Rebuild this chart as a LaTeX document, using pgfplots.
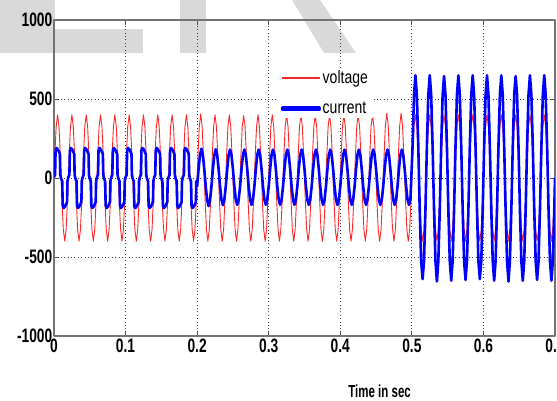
\documentclass[border=0pt]{standalone}
\usepackage{fontspec}
\setmainfont{Liberation Sans}
\newfontfamily\tickfont{Liberation Sans}[FakeStretch=0.71]
\newfontfamily\labfont{Liberation Sans}[FakeStretch=0.66]
\newfontfamily\legfont{Liberation Sans}[FakeStretch=0.78]
\usepackage{pgfplots}
\pgfplotsset{compat=1.18}
\definecolor{vred}{RGB}{255,40,40}

\begin{document}
\begin{tikzpicture}
\path[use as bounding box] (-54bp,-65bp) rectangle (503bp,336bp);
% faded watermark pieces
\fill[black!15] (-54bp,283bp) rectangle (1bp,336bp);
\fill[black!15] (1bp,283bp) rectangle (89bp,307bp);
\fill[black!15] (126bp,283bp) rectangle (152bp,336bp);
\fill[black!15] (238bp,336bp) -- (266bp,336bp) -- (302bp,283bp) -- (270bp,283bp) -- cycle;
\begin{axis}[
    at={(0,0)}, anchor=south west,
    width=501bp, height=316bp, scale only axis,
    xmin=0, xmax=0.7, ymin=-1000, ymax=1000,
    xtick={0,0.1,0.2,0.3,0.4,0.5,0.6,0.7},
    ytick={-1000,-500,0,500,1000},
    scaled ticks=false,
    /pgf/number format/1000 sep={},
    /pgf/number format/assume math mode=true,
    tick align=inside,
    major tick length=5bp,
    tick style={black!70, line width=0.8bp},
    axis line style={draw=black!55, line width=1.6bp},
    grid=major,
    major grid style={black!75, line width=0.8bp, dash pattern=on 0.8bp off 2.6bp},
    ticklabel style={font=\tickfont\bfseries\fontsize{19.5}{19.5}\selectfont},
    yticklabel style={inner xsep=1.5bp},
    xticklabel style={inner ysep=3bp},
    xlabel={Time in sec},
    xlabel style={font=\labfont\bfseries\fontsize{17.5}{17.5}\selectfont,
        at={(rel axis cs:0.65,0)}, anchor=center, yshift=-55bp},
    legend style={at={(rel axis cs:0.447,0.85)}, anchor=north west,
        draw=none, fill=white, inner xsep=3bp, inner ysep=1bp,
        font=\legfont\fontsize{18}{18}\selectfont, row sep=13bp,
        text=black},
    legend cell align=left,
    line join=round,
]
% voltage
\addplot[draw=vred, line width=0.9bp, mark=none,
    legend image code/.code={\fill[vred] (0bp,-0.7bp) rectangle (37bp,0.7bp);}] coordinates {
(0,0)
(0.001,124) (0.003,324) (0.005,400) (0.007,324) (0.009,124) (0.011,-124) (0.013,-324) (0.015,-400) (0.017,-324) (0.019,-124)
(0.021,124) (0.023,324) (0.025,400) (0.027,324) (0.029,124) (0.031,-124) (0.033,-324) (0.035,-400) (0.037,-324) (0.039,-124)
(0.041,124) (0.043,324) (0.045,400) (0.047,324) (0.049,124) (0.051,-124) (0.053,-324) (0.055,-400) (0.057,-324) (0.059,-124)
(0.061,124) (0.063,324) (0.065,400) (0.067,324) (0.069,124) (0.071,-124) (0.073,-324) (0.075,-400) (0.077,-324) (0.079,-124)
(0.081,124) (0.083,324) (0.085,400) (0.087,324) (0.089,124) (0.091,-124) (0.093,-324) (0.095,-400) (0.097,-324) (0.099,-124)
(0.101,124) (0.103,324) (0.105,400) (0.107,324) (0.109,124) (0.111,-124) (0.113,-324) (0.115,-400) (0.117,-324) (0.119,-124)
(0.121,124) (0.123,324) (0.125,400) (0.127,324) (0.129,124) (0.131,-124) (0.133,-324) (0.135,-400) (0.137,-324) (0.139,-124)
(0.141,124) (0.143,324) (0.145,400) (0.147,324) (0.149,124) (0.151,-124) (0.153,-324) (0.155,-400) (0.157,-324) (0.159,-124)
(0.161,124) (0.163,324) (0.165,400) (0.167,324) (0.169,124) (0.171,-124) (0.173,-324) (0.175,-400) (0.177,-324) (0.179,-124)
(0.181,124) (0.183,324) (0.185,400) (0.187,324) (0.189,124) (0.191,-124) (0.193,-324) (0.195,-400) (0.197,-324) (0.199,-124)
(0.201,124) (0.203,324) (0.205,405) (0.207,324) (0.209,124) (0.211,-124) (0.213,-324) (0.215,-400) (0.217,-324) (0.219,-124)
(0.221,124) (0.223,324) (0.225,400) (0.227,324) (0.229,124) (0.231,-124) (0.233,-324) (0.235,-400) (0.237,-324) (0.239,-124)
(0.241,124) (0.243,324) (0.245,400) (0.247,324) (0.249,124) (0.251,-124) (0.253,-324) (0.255,-400) (0.257,-324) (0.259,-124)
(0.261,124) (0.263,324) (0.265,395) (0.267,324) (0.269,124) (0.271,-124) (0.273,-324) (0.275,-400) (0.277,-324) (0.279,-124)
(0.281,124) (0.283,324) (0.285,400) (0.287,324) (0.289,124) (0.291,-124) (0.293,-324) (0.295,-400) (0.297,-324) (0.299,-124)
(0.301,124) (0.303,324) (0.305,400) (0.307,324) (0.309,124) (0.311,-124) (0.313,-324) (0.315,-400) (0.317,-324) (0.319,-124)
(0.321,124) (0.323,324) (0.325,400) (0.327,324) (0.329,124) (0.331,-124) (0.333,-324) (0.335,-400) (0.337,-324) (0.339,-124)
(0.341,124) (0.343,324) (0.345,400) (0.347,324) (0.349,124) (0.351,-124) (0.353,-324) (0.355,-400) (0.357,-324) (0.359,-124)
(0.361,124) (0.363,324) (0.365,400) (0.367,324) (0.369,124) (0.371,-124) (0.373,-324) (0.375,-400) (0.377,-324) (0.379,-124)
(0.381,124) (0.383,324) (0.385,400) (0.387,324) (0.389,124) (0.391,-124) (0.393,-324) (0.395,-400) (0.397,-324) (0.399,-124)
(0.401,124) (0.403,324) (0.405,400) (0.407,324) (0.409,124) (0.411,-124) (0.413,-324) (0.415,-400) (0.417,-324) (0.419,-124)
(0.421,124) (0.423,324) (0.425,400) (0.427,324) (0.429,124) (0.431,-124) (0.433,-324) (0.435,-400) (0.437,-324) (0.439,-124)
(0.441,124) (0.443,324) (0.445,400) (0.447,324) (0.449,124) (0.451,-124) (0.453,-324) (0.455,-400) (0.457,-324) (0.459,-124)
(0.461,124) (0.463,330) (0.465,410) (0.467,330) (0.469,124) (0.471,-124) (0.473,-324) (0.475,-400) (0.477,-324) (0.479,-124)
(0.481,124) (0.483,330) (0.485,410) (0.487,330) (0.489,124) (0.491,-124) (0.493,-324) (0.495,-400) (0.497,-324) (0.499,-124)
(0.501,124) (0.503,324) (0.505,400) (0.507,324) (0.509,124) (0.511,-124) (0.513,-324) (0.515,-400) (0.517,-324) (0.519,-124)
(0.521,124) (0.523,324) (0.525,400) (0.527,324) (0.529,124) (0.531,-124) (0.533,-324) (0.535,-400) (0.537,-324) (0.539,-124)
(0.541,124) (0.543,324) (0.545,400) (0.547,324) (0.549,124) (0.551,-124) (0.553,-324) (0.555,-400) (0.557,-324) (0.559,-124)
(0.561,124) (0.563,324) (0.565,400) (0.567,324) (0.569,124) (0.571,-124) (0.573,-324) (0.575,-400) (0.577,-324) (0.579,-124)
(0.581,124) (0.583,324) (0.585,400) (0.587,324) (0.589,124) (0.591,-124) (0.593,-324) (0.595,-400) (0.597,-324) (0.599,-124)
(0.601,124) (0.603,324) (0.605,400) (0.607,324) (0.609,124) (0.611,-124) (0.613,-324) (0.615,-400) (0.617,-324) (0.619,-124)
(0.621,124) (0.623,324) (0.625,400) (0.627,324) (0.629,124) (0.631,-124) (0.633,-324) (0.635,-400) (0.637,-324) (0.639,-124)
(0.641,124) (0.643,324) (0.645,400) (0.647,324) (0.649,124) (0.651,-124) (0.653,-324) (0.655,-400) (0.657,-324) (0.659,-124)
(0.661,124) (0.663,324) (0.665,400) (0.667,324) (0.669,124) (0.671,-124) (0.673,-324) (0.675,-400) (0.677,-324) (0.679,-124)
(0.681,124) (0.683,324) (0.685,400) (0.687,324) (0.689,124) (0.691,-124) (0.693,-324) (0.695,-400) (0.697,-324) (0.699,-124)
(0.7,0)
};
\addlegendentry{voltage}
% current
\addplot[draw=blue, line width=2.6bp, mark=none,
    legend image code/.code={\fill[blue] (0bp,-1.3bp) rectangle (37bp,1.3bp);}] coordinates {
(0.0000,5) (0.0015,20) (0.0022,175) (0.0035,190) (0.0055,180) (0.0075,160) (0.0083,150) (0.0088,20) (0.0100,-5) (0.0115,-20) (0.0122,-175) (0.0135,-190) (0.0155,-180) (0.0175,-160) (0.0183,-150) (0.0188,-20)
(0.0200,5) (0.0215,20) (0.0222,175) (0.0235,190) (0.0255,180) (0.0275,160) (0.0283,150) (0.0288,20) (0.0300,-5) (0.0315,-20) (0.0322,-175) (0.0335,-190) (0.0355,-180) (0.0375,-160) (0.0383,-150) (0.0388,-20)
(0.0400,5) (0.0415,20) (0.0422,175) (0.0435,190) (0.0455,180) (0.0475,160) (0.0483,150) (0.0488,20) (0.0500,-5) (0.0515,-20) (0.0522,-175) (0.0535,-190) (0.0555,-180) (0.0575,-160) (0.0583,-150) (0.0588,-20)
(0.0600,5) (0.0615,20) (0.0622,175) (0.0635,190) (0.0655,180) (0.0675,160) (0.0683,150) (0.0688,20) (0.0700,-5) (0.0715,-20) (0.0722,-175) (0.0735,-190) (0.0755,-180) (0.0775,-160) (0.0783,-150) (0.0788,-20)
(0.0800,5) (0.0815,20) (0.0822,175) (0.0835,190) (0.0855,180) (0.0875,160) (0.0883,150) (0.0888,20) (0.0900,-5) (0.0915,-20) (0.0922,-175) (0.0935,-190) (0.0955,-180) (0.0975,-160) (0.0983,-150) (0.0988,-20)
(0.1000,5) (0.1015,20) (0.1022,175) (0.1035,190) (0.1055,180) (0.1075,160) (0.1083,150) (0.1088,20) (0.1100,-5) (0.1115,-20) (0.1122,-175) (0.1135,-190) (0.1155,-180) (0.1175,-160) (0.1183,-150) (0.1188,-20)
(0.1200,5) (0.1215,20) (0.1222,175) (0.1235,190) (0.1255,180) (0.1275,160) (0.1283,150) (0.1288,20) (0.1300,-5) (0.1315,-20) (0.1322,-175) (0.1335,-190) (0.1355,-180) (0.1375,-160) (0.1383,-150) (0.1388,-20)
(0.1400,5) (0.1415,20) (0.1422,175) (0.1435,190) (0.1455,180) (0.1475,160) (0.1483,150) (0.1488,20) (0.1500,-5) (0.1515,-20) (0.1522,-175) (0.1535,-190) (0.1555,-180) (0.1575,-160) (0.1583,-150) (0.1588,-20)
(0.1600,5) (0.1615,20) (0.1622,175) (0.1635,190) (0.1655,180) (0.1675,160) (0.1683,150) (0.1688,20) (0.1700,-5) (0.1715,-20) (0.1722,-175) (0.1735,-190) (0.1755,-180) (0.1775,-160) (0.1783,-150) (0.1788,-20)
(0.1800,5) (0.1815,20) (0.1822,175) (0.1835,190) (0.1855,180) (0.1875,160) (0.1883,150) (0.1888,20) (0.1900,-5) (0.1915,-20) (0.1922,-175) (0.1935,-190) (0.1955,-180) (0.1975,-160) (0.1983,-150) (0.1988,-20)
(0.200,-53) (0.202,56) (0.204,146) (0.206,185) (0.208,146) (0.210,56) (0.212,-53) (0.214,-140) (0.216,-178) (0.218,-140)
(0.220,-53) (0.222,56) (0.224,146) (0.226,182) (0.228,146) (0.230,56) (0.232,-53) (0.234,-138) (0.236,-172) (0.238,-138)
(0.240,-53) (0.242,56) (0.244,146) (0.246,180) (0.248,146) (0.250,56) (0.252,-53) (0.254,-138) (0.256,-170) (0.258,-138)
(0.260,-53) (0.262,56) (0.264,146) (0.266,180) (0.268,146) (0.270,56) (0.272,-53) (0.274,-138) (0.276,-170) (0.278,-138)
(0.280,-53) (0.282,56) (0.284,146) (0.286,180) (0.288,146) (0.290,56) (0.292,-53) (0.294,-138) (0.296,-170) (0.298,-138)
(0.300,-53) (0.302,56) (0.304,146) (0.306,180) (0.308,146) (0.310,56) (0.312,-53) (0.314,-138) (0.316,-170) (0.318,-138)
(0.320,-53) (0.322,56) (0.324,146) (0.326,180) (0.328,146) (0.330,56) (0.332,-53) (0.334,-138) (0.336,-170) (0.338,-138)
(0.340,-53) (0.342,56) (0.344,146) (0.346,180) (0.348,146) (0.350,56) (0.352,-53) (0.354,-138) (0.356,-170) (0.358,-138)
(0.360,-53) (0.362,56) (0.364,146) (0.366,180) (0.368,146) (0.370,56) (0.372,-53) (0.374,-138) (0.376,-170) (0.378,-138)
(0.380,-53) (0.382,56) (0.384,146) (0.386,180) (0.388,146) (0.390,56) (0.392,-53) (0.394,-138) (0.396,-170) (0.398,-138)
(0.400,-53) (0.402,56) (0.404,146) (0.406,180) (0.408,146) (0.410,56) (0.412,-53) (0.414,-138) (0.416,-170) (0.418,-138)
(0.420,-53) (0.422,56) (0.424,146) (0.426,180) (0.428,146) (0.430,56) (0.432,-53) (0.434,-138) (0.436,-170) (0.438,-138)
(0.440,-53) (0.442,56) (0.444,146) (0.446,180) (0.448,146) (0.450,56) (0.452,-53) (0.454,-138) (0.456,-170) (0.458,-138)
(0.460,-53) (0.462,56) (0.464,146) (0.466,180) (0.468,146) (0.470,56) (0.472,-53) (0.474,-138) (0.476,-170) (0.478,-138)
(0.480,-53) (0.482,56) (0.484,146) (0.486,180) (0.488,146) (0.490,56) (0.492,-53) (0.494,-138) (0.496,-170) (0.498,-138)
(0.501,201) (0.503,526) (0.505,650) (0.507,526) (0.509,201) (0.511,-201) (0.513,-526) (0.515,-640) (0.517,-526) (0.519,-201)
(0.521,201) (0.523,526) (0.525,650) (0.527,526) (0.529,201) (0.531,-201) (0.533,-526) (0.535,-655) (0.537,-526) (0.539,-201)
(0.541,201) (0.543,526) (0.545,645) (0.547,526) (0.549,201) (0.551,-201) (0.553,-526) (0.555,-650) (0.557,-526) (0.559,-201)
(0.561,201) (0.563,526) (0.565,650) (0.567,526) (0.569,201) (0.571,-201) (0.573,-526) (0.575,-645) (0.577,-526) (0.579,-201)
(0.581,201) (0.583,526) (0.585,650) (0.587,526) (0.589,201) (0.591,-201) (0.593,-526) (0.595,-640) (0.597,-526) (0.599,-201)
(0.601,201) (0.603,526) (0.605,650) (0.607,526) (0.609,201) (0.611,-201) (0.613,-526) (0.615,-650) (0.617,-526) (0.619,-201)
(0.621,201) (0.623,526) (0.625,650) (0.627,526) (0.629,201) (0.631,-201) (0.633,-526) (0.635,-655) (0.637,-526) (0.639,-201)
(0.641,201) (0.643,526) (0.645,645) (0.647,526) (0.649,201) (0.651,-201) (0.653,-526) (0.655,-650) (0.657,-526) (0.659,-201)
(0.661,201) (0.663,526) (0.665,650) (0.667,526) (0.669,201) (0.671,-201) (0.673,-526) (0.675,-645) (0.677,-526) (0.679,-201)
(0.681,201) (0.683,526) (0.685,650) (0.687,526) (0.689,201) (0.691,-201) (0.693,-526) (0.695,-650) (0.697,-526) (0.699,-201)
(0.7,0)
};
\addlegendentry{current}
\end{axis}
\end{tikzpicture}
\end{document}
